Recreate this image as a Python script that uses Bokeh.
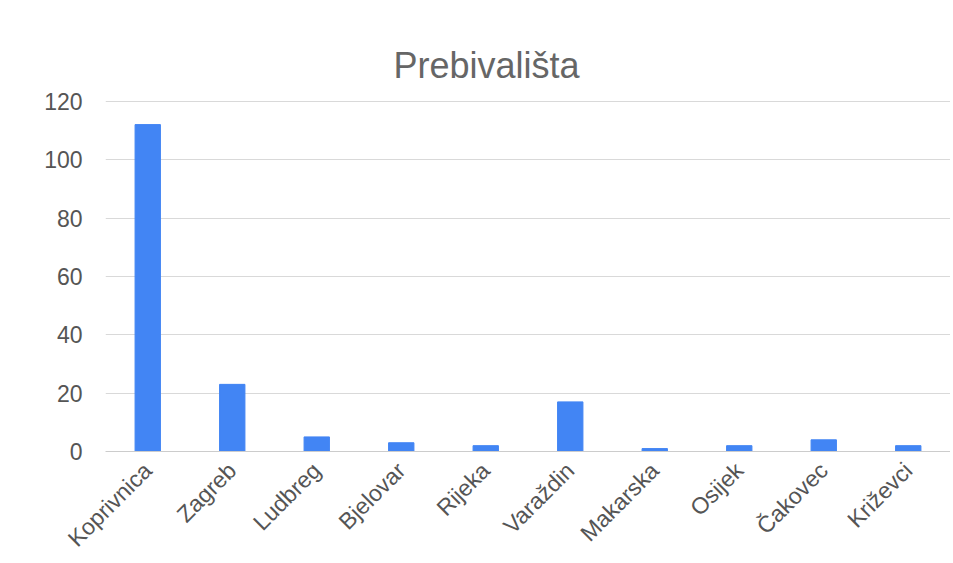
from bokeh.plotting import figure
from bokeh.models import ColumnDataSource, FactorRange, Range1d, FixedTicker
from bokeh.embed import file_html
from bokeh.resources import INLINE
import math

cities = ["Koprivnica", "Zagreb", "Ludbreg", "Bjelovar", "Rijeka", "Varaždin",
          "Makarska", "Osijek", "Čakovec", "Križevci"]
counts = [112, 23, 5, 3, 2, 17, 1, 2, 4, 2]
y_ticks = [0, 20, 40, 60, 80, 100, 120]

src = ColumnDataSource(dict(city=cities, count=counts))

p = figure(width=950, height=563, output_backend="svg", toolbar_location=None,
           x_range=FactorRange(*cities, range_padding=0), y_range=Range1d(0, 120.6),
           min_border_left=105, min_border_right=0, min_border_top=99, min_border_bottom=108,
           title="Prebivališta")
p.vbar(x="city", top="count", width=0.3, source=src, color="#4285F4")

p.title.text_font = "Liberation Sans"
p.title.text_font_size = "36px"
p.title.text_font_style = "normal"
p.title.text_color = "#666666"
p.title.align = "left"
p.title.offset = 288
p.title.standoff = 28

p.outline_line_color = None
p.xgrid.grid_line_color = None
p.ygrid.grid_line_color = "#d9d9d9"
p.ygrid.grid_line_width = 1

p.yaxis.ticker = FixedTicker(ticks=y_ticks)
p.yaxis.axis_line_color = None
p.yaxis.major_tick_line_color = None
p.yaxis.minor_tick_line_color = None
p.yaxis.major_label_text_font = "Liberation Sans"
p.yaxis.major_label_text_font_size = "23px"
p.yaxis.major_label_text_color = "#555555"
p.yaxis.major_label_standoff = 17

p.xaxis.axis_line_color = "#cccccc"
p.xaxis.major_tick_line_color = None
p.xaxis.minor_tick_line_color = None
p.xaxis.major_label_orientation = math.pi / 4
p.xaxis.major_label_text_font = "Liberation Sans"
p.xaxis.major_label_text_font_size = "23px"
p.xaxis.major_label_text_color = "#555555"
p.xaxis.major_label_standoff = 9

open("out.html", "w").write(file_html(p, INLINE))
